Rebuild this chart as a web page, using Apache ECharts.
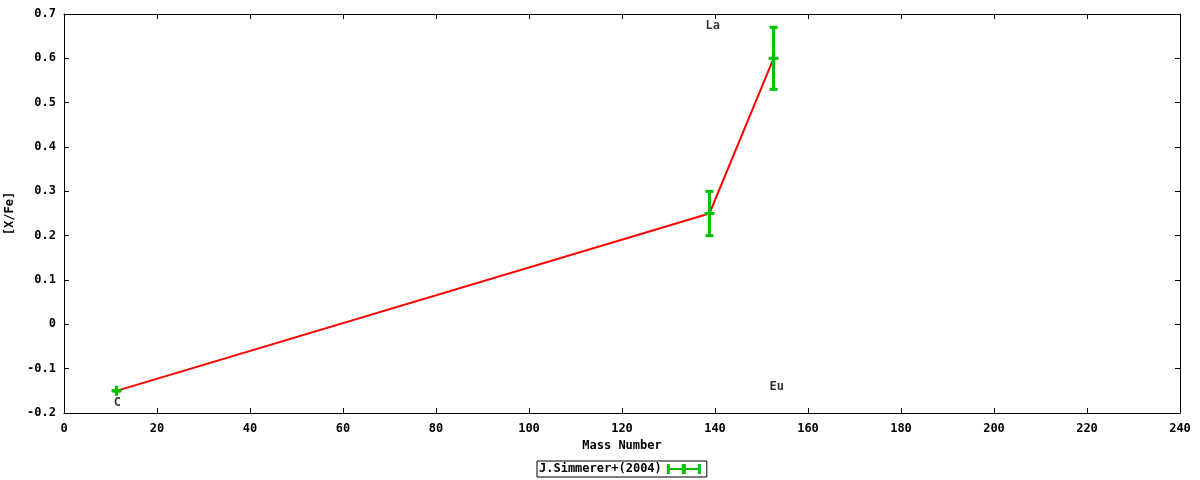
<!DOCTYPE html>
<html>
<head>
<meta charset="utf-8">
<script src="https://cdn.jsdelivr.net/npm/echarts@6/dist/echarts.min.js"></script>
<style>
html, body { margin: 0; padding: 0; background: #fff; }
#chart { width: 1200px; height: 480px; }
</style>
</head>
<body>
<div id="chart"></div>
<script>
// mass numbers and [X/Fe] values
var massNumber = [11.3, 138.8, 152.6];
var xfe = [-0.15, 0.25, 0.6];
var errLow = [-0.15, 0.20, 0.53];
var errHigh = [-0.15, 0.30, 0.67];

// element labels
var labelNames = ['C', 'La', 'Eu'];
var labelX = [11.5, 139.5, 153.3];
var labelY = [-0.177, 0.673, -0.141];

var seriesName = 'J.Simmerer+(2004)';
var FONT = 'DejaVu Sans Mono';

function fmtY(v) {
	if (Math.abs(v) < 1e-9) return '0';
	return v.toFixed(1);
}

var lineData = [];
var errData = [];
var labelData = [];
for (var i = 0; i < massNumber.length; i++) {
	lineData.push([massNumber[i], xfe[i]]);
	errData.push([massNumber[i], xfe[i], errLow[i], errHigh[i]]);
}
for (var j = 0; j < labelNames.length; j++) {
	labelData.push({ value: [labelX[j], labelY[j]], name: labelNames[j] });
}

function renderErr(params, api) {
	var c = api.coord([api.value(0), api.value(1)]);
	var lo = api.coord([api.value(0), api.value(2)]);
	var hi = api.coord([api.value(0), api.value(3)]);
	var st = { stroke: '#00c000', lineWidth: 3 };
	var children = [
		{ type: 'line', shape: { x1: c[0], y1: lo[1], x2: c[0], y2: hi[1] }, style: st },
		{ type: 'line', shape: { x1: c[0] - 4, y1: lo[1], x2: c[0] + 4, y2: lo[1] }, style: st },
		{ type: 'line', shape: { x1: c[0] - 4, y1: hi[1], x2: c[0] + 4, y2: hi[1] }, style: st },
		{ type: 'line', shape: { x1: c[0] - 5, y1: c[1], x2: c[0] + 5, y2: c[1] }, style: st },
		{ type: 'line', shape: { x1: c[0], y1: c[1] - 5, x2: c[0], y2: c[1] + 5 }, style: st }
	];
	return { type: 'group', children: children };
}

var axisText = { fontFamily: FONT, fontWeight: 'bold', fontSize: 12, color: '#000' };

var chart = echarts.init(document.getElementById('chart'));
var option = {
	backgroundColor: '#fff',
	animation: false,
	grid: { left: 64, right: 20, top: 14, bottom: 67, outerBoundsMode: 'none', containLabel: false },
	legend: {
		data: [{
			name: seriesName,
			icon: 'path://M0,0H3V4H15V0H19V4H31V0H34V10H31V6H19V10H15V6H3V10H0Z'
		}],
		bottom: 3,
		left: 537,
		align: 'right',
		itemWidth: 34,
		itemHeight: 10,
		padding: [2, 6, 2, 2],
		borderColor: '#000',
		borderWidth: 1,
		borderRadius: 0,
		textStyle: axisText
	},
	xAxis: [{
		type: 'value',
		min: 0, max: 240, interval: 20,
		name: 'Mass Number',
		nameLocation: 'middle',
		nameGap: 27,
		nameTextStyle: axisText,
		axisLine: { show: true, onZero: false, lineStyle: { color: '#000', width: 1 } },
		axisTick: { show: true, inside: true, length: 5, lineStyle: { color: '#000' } },
		axisLabel: { margin: 10, fontFamily: FONT, fontWeight: 'bold', fontSize: 12, color: '#000' },
		splitLine: { show: false }
	}, {
		type: 'value',
		position: 'top',
		min: 0, max: 240, interval: 20,
		axisLine: { show: true, onZero: false, lineStyle: { color: '#000', width: 1 } },
		axisTick: { show: true, inside: true, length: 5, lineStyle: { color: '#000' } },
		axisLabel: { show: false },
		splitLine: { show: false }
	}],
	yAxis: [{
		type: 'value',
		min: -0.2, max: 0.7, interval: 0.1,
		name: '[X/Fe]',
		nameLocation: 'middle',
		nameGap: 46,
		nameRotate: 90,
		nameTextStyle: axisText,
		axisLine: { show: true, onZero: false, lineStyle: { color: '#000', width: 1 } },
		axisTick: { show: true, inside: true, length: 5, lineStyle: { color: '#000' } },
		axisLabel: { margin: 8, formatter: fmtY, fontFamily: FONT, fontWeight: 'bold', fontSize: 12, color: '#000' },
		splitLine: { show: false }
	}, {
		type: 'value',
		position: 'right',
		min: -0.2, max: 0.7, interval: 0.1,
		axisLine: { show: true, onZero: false, lineStyle: { color: '#000', width: 1 } },
		axisTick: { show: true, inside: true, length: 5, lineStyle: { color: '#000' } },
		axisLabel: { show: false },
		splitLine: { show: false }
	}],
	series: [{
		name: 'line',
		type: 'line',
		data: lineData,
		symbol: 'none',
		lineStyle: { color: '#ff0000', width: 2 },
		z: 2
	}, {
		name: seriesName,
		type: 'custom',
		renderItem: renderErr,
		data: errData,
		itemStyle: { color: '#00c000' },
		encode: { x: 0, y: [1, 2, 3] },
		z: 3
	}, {
		name: 'labels',
		type: 'scatter',
		data: labelData,
		symbolSize: 0,
		label: {
			show: true,
			position: 'inside',
			formatter: '{b}',
			fontFamily: FONT,
			fontWeight: 'bold',
			fontSize: 12,
			color: '#000'
		},
		z: 4
	}]
};
chart.setOption(option);
</script>
</body>
</html>
